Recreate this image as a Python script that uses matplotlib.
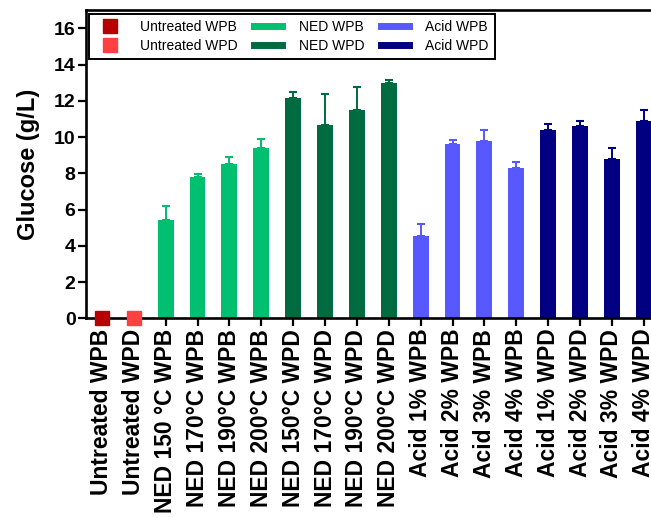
import matplotlib
matplotlib.use("Agg")
import matplotlib.pyplot as plt
from matplotlib.lines import Line2D
import numpy as np

plt.rcParams['font.family'] = ['Liberation Sans', 'DejaVu Sans']

categories = [
    "Untreated WPB", "Untreated WPD",
    "NED 150 °C WPB", "NED 170°C WPB", "NED 190°C WPB", "NED 200°C WPB",
    "NED 150°C WPD", "NED 170°C WPD", "NED 190°C WPD", "NED 200°C WPD",
    "Acid 1% WPB", "Acid 2% WPB", "Acid 3% WPB", "Acid 4% WPB",
    "Acid 1% WPD", "Acid 2% WPD", "Acid 3% WPD", "Acid 4% WPD",
]
groups = (["Untreated WPB", "Untreated WPD"]
          + ["NED WPB"] * 4 + ["NED WPD"] * 4
          + ["Acid WPB"] * 4 + ["Acid WPD"] * 4)
glucose = [0.0, 0.0,
           5.45, 7.81, 8.49, 9.39,
           12.18, 10.69, 11.48, 12.98,
           4.56, 9.61, 9.78, 8.27,
           10.41, 10.59, 8.78, 10.89]
glucose_err = [0.0, 0.0,
               0.73, 0.18, 0.44, 0.48,
               0.31, 1.69, 1.29, 0.20,
               0.62, 0.22, 0.61, 0.38,
               0.31, 0.30, 0.61, 0.61]
yticks = [0, 2, 4, 6, 8, 10, 12, 14, 16]

group_colors = {
    "Untreated WPB": "#B80000",
    "Untreated WPD": "#FF4040",
    "NED WPB": "#00BF6F",
    "NED WPD": "#006A40",
    "Acid WPB": "#5858FF",
    "Acid WPD": "#000080",
}
marker_groups = ["Untreated WPB", "Untreated WPD"]

fig = plt.figure(figsize=(6.51, 5.18), dpi=100)
ax = fig.add_axes([0.132, 0.3855, 0.8814, 0.5946])

x = np.arange(len(categories))
for xi, val, err, grp in zip(x, glucose, glucose_err, groups):
    c = group_colors[grp]
    if grp in marker_groups:
        ax.plot([xi], [val], marker='s', ms=9.5, color=c, clip_on=False,
                zorder=5, linestyle='none')
    else:
        ax.bar(xi, val, width=0.5, color=c, zorder=2)
        ax.errorbar(xi, val, yerr=[[0], [err]], color=c, capsize=3.0,
                    elinewidth=1.4, capthick=1.5, zorder=1)

ax.set_xlim(-0.5, 17.5)
ax.set_ylim(0, 17)
ax.set_yticks(yticks)
ax.set_xticks(x)
ax.set_xticklabels(categories, rotation=90, fontsize=16.5, fontweight='bold')
for lbl in ax.get_yticklabels():
    lbl.set_fontsize(14)
    lbl.set_fontweight('bold')
ax.set_ylabel("Glucose (g/L)", fontsize=17, fontweight='bold', labelpad=10)

for side in ['left', 'bottom', 'top', 'right']:
    ax.spines[side].set_linewidth(1.9)
ax.tick_params(axis='both', direction='out', length=5.5, width=1.6, pad=2)

handles = []
for grp in ["Untreated WPB", "Untreated WPD", "NED WPB", "NED WPD",
            "Acid WPB", "Acid WPD"]:
    c = group_colors[grp]
    if grp in marker_groups:
        handles.append(Line2D([], [], marker='s', ms=9.5, color=c,
                              linestyle='none', label=grp))
    else:
        handles.append(Line2D([], [], color=c, lw=5, label=grp))

leg = ax.legend(handles=handles, loc='upper left', bbox_to_anchor=(0, 1),
                ncol=3, fontsize=10, frameon=True, fancybox=False,
                edgecolor='black', framealpha=1, borderaxespad=0.25,
                handlelength=2.0, handletextpad=1.2, columnspacing=1.2,
                labelspacing=0.35, borderpad=0.45)
leg.get_frame().set_linewidth(1.4)

fig.savefig("out.png", dpi=100)
